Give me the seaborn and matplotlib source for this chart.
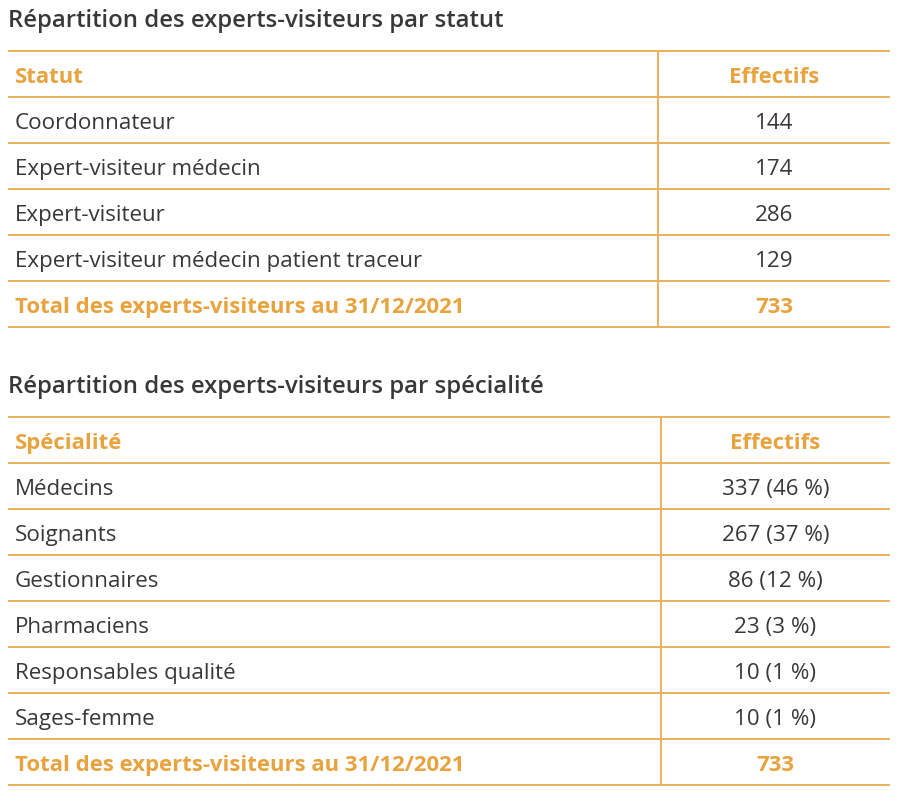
import matplotlib
matplotlib.use("Agg")
import matplotlib.pyplot as plt
import seaborn as sns

# ---- data ----
title1 = "Répartition des experts-visiteurs par statut"
title2 = "Répartition des experts-visiteurs par spécialité"
header1 = ["Statut", "Effectifs"]
header2 = ["Spécialité", "Effectifs"]
statut_labels = ["Coordonnateur", "Expert-visiteur médecin", "Expert-visiteur",
                 "Expert-visiteur médecin patient traceur"]
statut_values = [144, 174, 286, 129]
specialite_labels = ["Médecins", "Soignants", "Gestionnaires", "Pharmaciens",
                     "Responsables qualité", "Sages-femme"]
specialite_values = [337, 267, 86, 23, 10, 10]
specialite_pcts = [46, 37, 12, 3, 1, 1]
total_label = "Total des experts-visiteurs au 31/12/2021"
total_value = 733

# ---- style ----
sns.set_theme(style="white")
plt.rcParams["font.family"] = ["Open Sans", "DejaVu Sans"]
ORANGE = "#E8A33F"
LINE = "#EBB060"
DARK = "#383838"

W, H = 900, 791
fig = plt.figure(figsize=(W / 100, H / 100), dpi=100)
ax = fig.add_axes([0, 0, 1, 1])
ax.set_xlim(0, W)
ax.set_ylim(H, 0)
ax.axis("off")

X0, X1 = 8, 890
ROW_H = 46
TITLE_FS = 17.2
BODY_FS = 16.1
BOLD_FS = 15.9
BASE = 32


def draw_table(title, title_base, top, sep_x, header, rows, total_value):
    ax.text(X0, title_base, title, fontsize=TITLE_FS, color=DARK,
            va="baseline", ha="left", fontweight="semibold")
    n = len(rows) + 2
    val_x = (sep_x + X1) / 2
    for i in range(n + 1):
        y = top + i * ROW_H
        ax.plot([X0, X1], [y, y], color=LINE, lw=1.4, solid_capstyle="butt")
    ax.plot([sep_x, sep_x], [top, top + n * ROW_H], color=LINE, lw=1.4,
            solid_capstyle="butt")
    # header
    yb = top + BASE
    ax.text(15, yb, header[0], fontsize=BOLD_FS, fontweight="bold",
            color=ORANGE, va="baseline", ha="left")
    ax.text(val_x, yb, header[1], fontsize=BOLD_FS, fontweight="bold",
            color=ORANGE, va="baseline", ha="center")
    for j, (lab, val) in enumerate(rows):
        yb = top + (j + 1) * ROW_H + BASE
        ax.text(15, yb, lab, fontsize=BODY_FS, color=DARK,
                va="baseline", ha="left")
        ax.text(val_x, yb, val, fontsize=BODY_FS, color=DARK,
                va="baseline", ha="center")
    yb = top + (n - 1) * ROW_H + BASE
    ax.text(15, yb, total_label, fontsize=BOLD_FS, fontweight="bold",
            color=ORANGE, va="baseline", ha="left")
    ax.text(val_x, yb, str(total_value), fontsize=BOLD_FS, fontweight="bold",
            color=ORANGE, va="baseline", ha="center")


rows1 = [(l, str(v)) for l, v in zip(statut_labels, statut_values)]
rows2 = [(l, f"{v} ({p} %)") for l, v, p in
         zip(specialite_labels, specialite_values, specialite_pcts)]

draw_table(title1, 27, 51, 658, header1, rows1, total_value)
draw_table(title2, 393, 417, 661, header2, rows2, total_value)

fig.savefig("out.png", dpi=100, facecolor="white")
